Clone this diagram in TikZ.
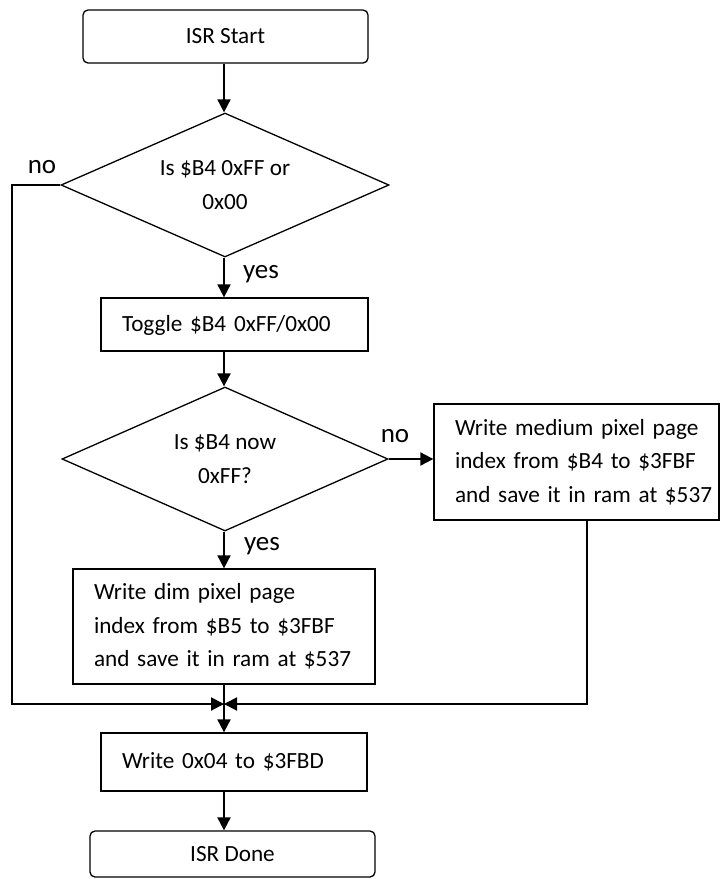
\documentclass[tikz,border=0pt]{standalone}
\usepackage{fontspec}
\setmainfont{Carlito}
\usetikzlibrary{shapes.geometric,arrows.meta,positioning}

\newcommand{\boxlines}[1]{\begin{tabular}{@{}l@{}}#1\end{tabular}}

\begin{document}
\begin{tikzpicture}[x=1pt,y=-1pt,
  txt/.style={font=\fontsize{23.2}{33.5}\selectfont},
  term/.style={txt,draw,rounded corners=5pt,line width=1.3pt,minimum width=285pt,inner sep=0pt},
  procbox/.style={txt,draw,line width=1.3pt,align=left,inner xsep=21pt,inner ysep=0pt},
  decision/.style={txt,draw,diamond,aspect=2.28,line width=1.3pt,align=center,inner sep=0pt,minimum width=328pt,minimum height=144pt},
  lbl/.style={font=\fontsize{27}{30}\selectfont,anchor=base},
  flow/.style={-{Triangle[length=13pt,width=13pt]},line width=2pt}]
\useasboundingbox (0,0) rectangle (720,879);

    \node[term,minimum height=53pt] (start) at (225.5,36.5) {ISR Start};
    \node[decision] (isff) at (225,185) {Is \$B4 0xFF or\\0x00};
    \node[procbox,text width=225pt,minimum height=53pt] (toggle) at (234.5,324.5) {\boxlines{Toggle \$B4 0xFF/0x00}};
    \node[decision,minimum width=326pt] (isnow) at (225,459) {Is \$B4 now\\0xFF?};
    \node[procbox,text width=243pt,minimum height=116pt] (medium) at (576.5,462)
        {\boxlines{Write medium pixel page\\index from \$B4 to \$3FBF\\and save it in ram at \$537}};
    \node[procbox,text width=260pt,minimum height=115pt] (dim) at (224,626.5)
        {\boxlines{Write dim pixel page\\index from \$B5 to \$3FBF\\and save it in ram at \$537}};
    \node[procbox,text width=224pt,minimum height=58pt] (wr) at (234,762) {\boxlines{Write 0x04 to \$3FBD}};
    \node[term,minimum height=46pt] (done) at (232.5,854) {ISR Done};

    % branch labels
    \node[lbl] (no1) at (42,173) {no};
    \node[lbl] (yes1) at (261,278) {yes};
    \node[lbl] (no2) at (395,442) {no};
    \node[lbl] (yes2) at (262,550) {yes};

    \coordinate (col) at (224,0);
    \coordinate (lx) at (12,0);
    \coordinate (rx) at (587,0);
    \coordinate (merge) at (224,704);

    \draw[flow] (start.south -| col) -- (isff.north -| col);
    \draw[flow] (isff.south -| col) -- (toggle.north -| col);
    \draw[flow] (toggle.south -| col) -- (isnow.north -| col);
    \draw[flow] (isnow.east) -- (isnow.east -| medium.west);
    \draw[flow] (isnow.south -| col) -- (dim.north -| col);
    \draw[flow] (isff.west) -- (isff.west -| lx) |- (merge);
    \draw[flow] (medium.south -| rx) |- (merge);
    \draw[flow] (dim.south -| col) -- (wr.north -| col);
    \draw[flow] (wr.south -| col) -- (done.north -| col);
\end{tikzpicture}
\end{document}
